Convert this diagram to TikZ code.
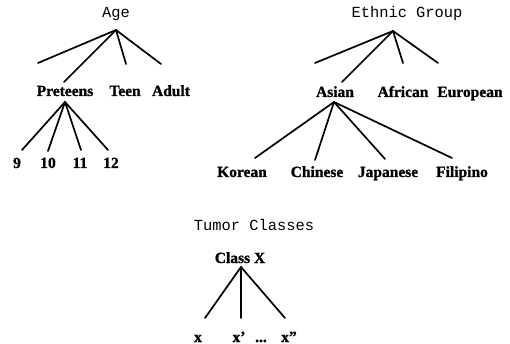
\documentclass[tikz,border=0pt]{standalone}
\usepackage{fontspec}
\setmainfont{Liberation Serif}
\newfontfamily\monof{Liberation Mono}
\newfontfamily\heavyf[FakeBold=1.2,Ligatures=TeX]{Liberation Serif Bold}
\tikzset{
  lbl/.style={font=\fontsize{15.5}{15}\selectfont\heavyf, inner sep=0pt, anchor=base},
  ttl/.style={font=\fontsize{15.4}{15}\selectfont\monof, inner sep=0pt, anchor=base},
  br/.style={line width=1.7pt, line cap=round}
}
\begin{document}
\begin{tikzpicture}[x=1pt,y=-1pt]
\useasboundingbox (0,0) rectangle (510,344);
% Age tree
\node[ttl] (age) at (116,18) {Age};
\coordinate (ageA) at (116,30);
\coordinate (ageE0) at (38,63);
\coordinate (preT) at (64,82);
\coordinate (teenT) at (126,64);
\coordinate (adultT) at (161,64);
\node[lbl] (pre) at (65,96) {Preteens};
\node[lbl] (teen) at (125,96) {Teen};
\node[lbl] (adult) at (171,96) {Adult};
\draw[br] (ageA) -- (ageE0);
\draw[br] (ageA) -- (preT);
\draw[br] (ageA) -- (teenT);
\draw[br] (ageA) -- (adultT);
\coordinate (preA) at (65,102);
\coordinate (e9) at (22,150);
\coordinate (e10) at (48,151);
\coordinate (e11) at (81,150);
\coordinate (e12) at (108,150);
\node[lbl] (n9) at (17,168) {9};
\node[lbl] (n10) at (48,168) {10};
\node[lbl] (n11) at (80,168) {11};
\node[lbl] (n12) at (111,168) {12};
\draw[br] (preA) -- (e9);
\draw[br] (preA) -- (e10);
\draw[br] (preA) -- (e11);
\draw[br] (preA) -- (e12);
% Ethnic group tree
\node[ttl] (eth) at (407,18) {Ethnic Group};
\coordinate (ethA) at (393,31);
\coordinate (ethE0) at (315,63);
\coordinate (asT) at (342,82);
\coordinate (afT) at (403,63);
\coordinate (euT) at (438,63);
\node[lbl] (asian) at (335,97) {Asian};
\node[lbl] (african) at (403,97) {African};
\node[lbl] (european) at (470,97) {European};
\draw[br] (ethA) -- (ethE0);
\draw[br] (ethA) -- (asT);
\draw[br] (ethA) -- (afT);
\draw[br] (ethA) -- (euT);
\coordinate (asA) at (334,102);
\coordinate (koT) at (255,158);
\coordinate (chT) at (315,160);
\coordinate (jaT) at (385,159);
\coordinate (fiT) at (452,158);
\node[lbl] (korean) at (242,177) {Korean};
\node[lbl] (chinese) at (317,177) {Chinese};
\node[lbl] (japanese) at (388,177) {Japanese};
\node[lbl] (filipino) at (462,177) {Filipino};
\draw[br] (asA) -- (koT);
\draw[br] (asA) -- (chT);
\draw[br] (asA) -- (jaT);
\draw[br] (asA) -- (fiT);
% Tumor classes
\node[ttl] (tum) at (254,230) {Tumor Classes};
\node[lbl] (classx) at (240,263) {Class X};
\coordinate (cxA) at (241,267);
\coordinate (xT) at (205,318);
\coordinate (x1T) at (241,318);
\coordinate (x2T) at (285,318);
\node[lbl] (x0) at (198,342) {x};
\node[lbl] (x1) at (239,342) {x’};
\node[lbl] (dots) at (261,342) {...};
\node[lbl] (x2) at (289,342) {x”};
\draw[br] (cxA) -- (xT);
\draw[br] (cxA) -- (x1T);
\draw[br] (cxA) -- (x2T);
\end{tikzpicture}
\end{document}
